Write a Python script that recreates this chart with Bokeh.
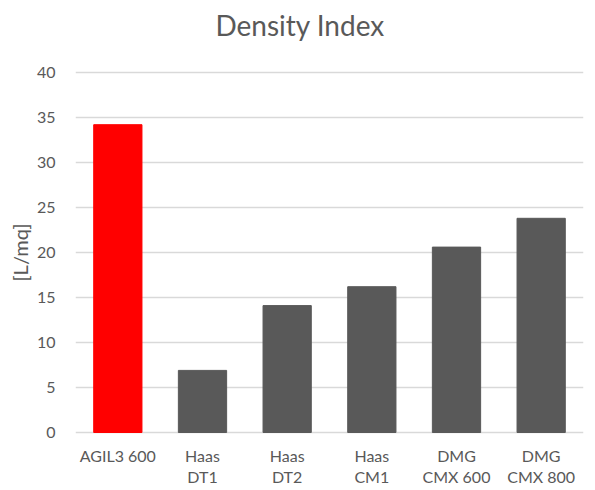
from bokeh.plotting import figure
from bokeh.models import ColumnDataSource, Range1d, FixedTicker, Title
from bokeh.core.properties import value
from bokeh.embed import file_html
from bokeh.resources import INLINE

categories = ["AGIL3 600", "Haas\nDT1", "Haas\nDT2", "Haas\nCM1", "DMG\nCMX 600", "DMG\nCMX 800"]
values = [34.2, 6.9, 14.1, 16.2, 20.6, 23.8]
colors = ["#ff0000", "#595959", "#595959", "#595959", "#595959", "#595959"]
y_ticks = [0, 5, 10, 15, 20, 25, 30, 35, 40]
title_text = "Density Index"
y_label = "[L/mq]"

FONT = "Lato"
TXT = "#595959"

# layout (pixels inside the figure)
W = 587
H = 488
TOP_40 = 72      # pixel row of value 40
BOT_0 = 432      # pixel row of value 0
ppu = (BOT_0 - TOP_40) / 40.0
y_top = 40 + TOP_40 / ppu
y_bot = -(H - BOT_0) / ppu

src = ColumnDataSource(dict(cat=categories, val=values, col=colors,
                            base=[0] * len(categories)))

p = figure(x_range=categories, y_range=Range1d(y_bot, y_top), width=W, height=H,
           output_backend="svg", toolbar_location=None,
           min_border_left=75, min_border_right=4, min_border_top=0, min_border_bottom=0)

p.vbar(x="cat", top="val", width=0.57, color="col", source=src)

p.outline_line_color = None
p.xgrid.grid_line_color = None
p.ygrid.grid_line_color = "#d9d9d9"
p.ygrid.grid_line_width = 1.5

p.yaxis.ticker = FixedTicker(ticks=y_ticks)
p.yaxis.axis_line_color = None
p.yaxis.major_tick_line_color = None
p.yaxis.minor_tick_line_color = None
p.yaxis.major_tick_out = 0
p.yaxis.major_tick_in = 0
p.yaxis.major_label_standoff = 20
p.yaxis.major_label_text_font = FONT
p.yaxis.major_label_text_font_size = "16px"
p.yaxis.major_label_text_color = TXT

p.add_layout(Title(text=y_label, align="left", offset=207, standoff=4,
                   text_font=FONT, text_font_size="20px", text_font_style="normal",
                   text_color=TXT), "left")

p.xaxis.visible = False

# category labels below the baseline
p.text(x="cat", y="base", text="cat", source=src, y_offset=13,
       text_align="center", text_baseline="top", text_line_height=1.12,
       text_font=value(FONT), text_font_size=value("16px"), text_color=TXT)

# chart title
tsrc = ColumnDataSource(dict(x=[categories[2]], y=[40 + (TOP_40 - 24) / ppu], t=[title_text]))
p.text(x="x", y="y", text="t", source=tsrc, x_offset=13,
       text_align="center", text_baseline="middle",
       text_font=value(FONT), text_font_size=value("28px"), text_color=TXT)

open("out.html", "w").write(file_html(p, INLINE))
